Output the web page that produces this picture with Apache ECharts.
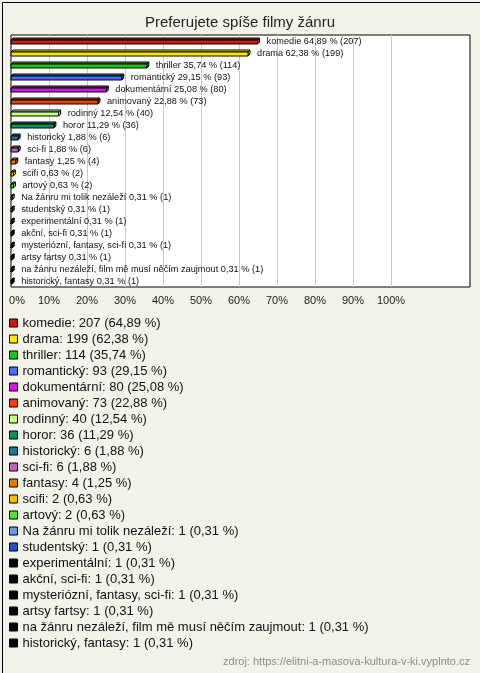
<!DOCTYPE html>
<html>
<head>
<meta charset="utf-8">
<script src="https://cdn.jsdelivr.net/npm/echarts@6/dist/echarts.min.js"></script>
<style>
html,body{margin:0;padding:0;background:#f3f3ea;}
#chart{width:480px;height:673px;}
</style>
</head>
<body>
<div id="chart"></div>
<script>
const titleText = 'Preferujete spíše filmy žánru';
const sourceText = 'zdroj: https://elitni-a-masova-kultura-v-ki.vyplnto.cz';
const categories = ['komedie','drama','thriller','romantický','dokumentární','animovaný','rodinný','horor','historický','sci-fi','fantasy','scifi','artový','Na žánru mi tolik nezáleží','studentský','experimentální','akční, sci-fi','mysteriózní, fantasy, sci-fi','artsy fartsy','na žánru nezáleží, film mě musí něčím zaujmout','historický, fantasy'];
const counts = [207,199,114,93,80,73,40,36,6,6,4,2,2,1,1,1,1,1,1,1,1];
const percents = [64.89,62.38,35.74,29.15,25.08,22.88,12.54,11.29,1.88,1.88,1.25,0.63,0.63,0.31,0.31,0.31,0.31,0.31,0.31,0.31,0.31];
const colors = ['#c0200c','#ffe800','#20c020','#4a6cf0','#c81ed8','#e84010','#c8ff80','#10905a','#1c7890','#c060c0','#e87810','#f0c000','#50e040','#6898e0','#2850c0','#000000','#000000','#000000','#000000','#000000','#000000'];
const tickValues = [0,10,20,30,40,50,60,70,80,90,100];

const fmt = v => v.toFixed(2).replace('.', ',');
const FONT = '"Liberation Sans", Arial, sans-serif';

const chart = echarts.init(document.getElementById('chart'), null, {renderer:'canvas'});

const barData = percents.map((p, i) => ({value:[p, i], itemStyle:{color:colors[i]}}));

const legendSeries = categories.map((c, i) => ({
  name: c, type: 'bar', data: [], itemStyle: {color: colors[i], borderColor:'#000', borderWidth:1}
}));

const splitColors = [];
for (let i = 0; i < 14; i++) splitColors.push(i >= 1 && i <= 10 ? '#c8c8c8' : 'rgba(0,0,0,0)');

const option = {
  backgroundColor: '#f3f3ea',
  animation: false,
  title: {
    text: titleText, left: 'center', top: 10,
    textStyle: {fontSize: 15, fontWeight: 'normal', color: '#222', fontFamily: FONT}
  },
  grid: {left: 11, top: 35, width: 459, height: 252, show: true, backgroundColor: '#fff', borderColor: '#000', borderWidth: 1, containLabel: false},
  xAxis: {
    type: 'value', min: 0, max: 120.8, interval: 10,
    axisLine: {show: false}, axisTick: {show: false},
    splitLine: {show: true, lineStyle: {color: splitColors, width: 1}},
    axisLabel: {
      margin: 8, color: '#222', fontSize: 11, fontFamily: FONT,
      formatter: v => v === 0 ? '{z|0%}' : (v <= 100 ? v + '%' : ''),
      rich: {z: {padding: [0,0,0,12], fontSize: 11, color: '#222', fontFamily: FONT}}
    }
  },
  yAxis: {
    type: 'category', data: categories, inverse: true,
    axisLine: {show: false}, axisTick: {show: false}, axisLabel: {show: false}, splitLine: {show: false}
  },
  legend: {
    orient: 'vertical', left: 9, top: 315, padding: 0, itemGap: 0,
    itemWidth: 8, itemHeight: 8, icon: 'rect',
    itemStyle: {borderColor: '#000', borderWidth: 1},
    selectedMode: false,
    data: categories,
    textStyle: {fontSize: 13, color: '#111', fontFamily: FONT, lineHeight: 16},
    formatter: name => {
      const i = categories.indexOf(name);
      return name + ': ' + counts[i] + ' (' + fmt(percents[i]) + ' %)';
    }
  },
  graphic: [
    {type: 'rect', left: 0, top: 0, silent: true, shape: {x: 0.5, y: 0.5, width: 479, height: 672}, style: {fill: 'none', stroke: '#000', lineWidth: 1}},
    {type: 'text', right: 10, top: 656, style: {text: sourceText, fill: '#8a8a8a', font: '11px ' + FONT}}
  ],
  series: [{
    type: 'custom',
    data: barData,
    encode: {x: 0, y: 1},
    renderItem: (params, api) => {
      const i = params.dataIndex;
      const v = api.value(0), c = api.value(1);
      const p0 = api.coord([0, c]);
      const p1 = api.coord([v, c]);
      const color = api.visual('color');
      const h = 4, d = 2;
      const x0 = p0[0], x1 = p1[0];
      const yc = p0[1] + 1;
      const top = yc - h / 2, bot = yc + h / 2;
      const st = {fill: color, stroke: '#000', lineWidth: 1};
      return {
        type: 'group',
        children: [
          {type: 'polygon', shape: {points: [[x0, top], [x0 + d, top - d], [x1 + d, top - d], [x1, top]]}, style: st},
          {type: 'polygon', shape: {points: [[x1, top], [x1 + d, top - d], [x1 + d, bot - d], [x1, bot]]}, style: st},
          {type: 'rect', shape: {x: x0, y: top, width: x1 - x0, height: h}, style: st},
          {type: 'text', style: {text: categories[i] + ' ' + fmt(percents[i]) + ' % (' + counts[i] + ')', x: x1 + d + 7, y: p0[1], verticalAlign: 'middle', align: 'left', fill: '#111', font: '9.2px ' + FONT}}
        ]
      };
    }
  }].concat(legendSeries)
};
chart.setOption(option);
</script>
</body>
</html>
